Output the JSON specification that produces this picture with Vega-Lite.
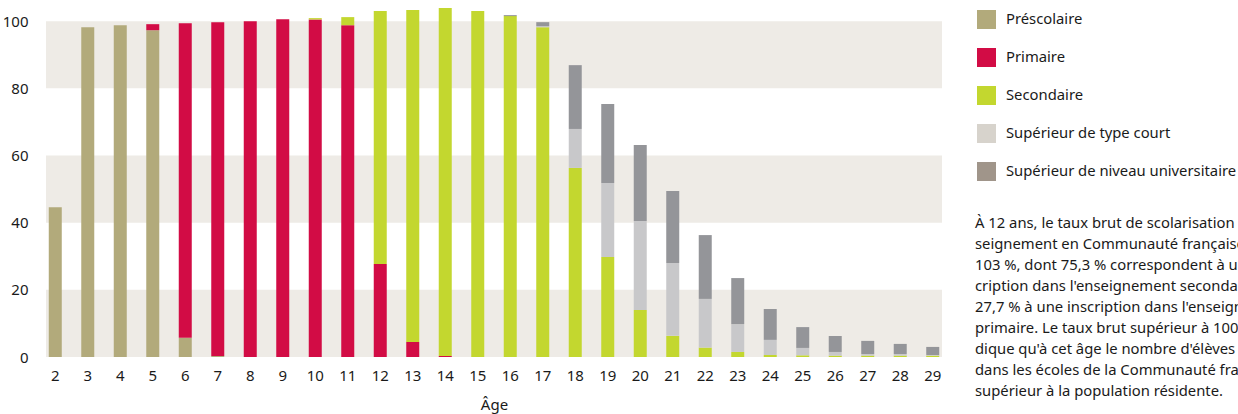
{
  "$schema": "https://vega.github.io/schema/vega-lite/v6.json",
  "autosize": {"type": "none"},
  "width": 896,
  "height": 356,
  "padding": {"left": 46, "top": 1, "right": 296, "bottom": 57},
  "background": "#ffffff",
  "config": {
    "view": {"stroke": null},
    "font": "Noto Sans",
    "axis": {"labelFont": "Noto Sans", "titleFont": "Noto Sans", "labelColor": "#1a1a1a", "titleColor": "#1a1a1a"},
    "legend": {"labelFont": "Noto Sans"}
  },
  "title": {
    "text": [
      "À 12 ans, le taux brut de scolarisation dans l'en-",
      "seignement en Communauté française s'élève à",
      "103 %, dont 75,3 % correspondent à une ins-",
      "cription  dans  l'enseignement  secondaire  et",
      "27,7 % à une inscription  dans l'enseignement",
      "primaire. Le taux brut supérieur à 100 % in-",
      "dique qu'à cet âge le nombre d'élèves inscrits",
      "dans les écoles de la Communauté française est",
      "supérieur à la population résidente."
    ],
    "orient": "top",
    "anchor": "start",
    "frame": "group",
    "baseline": "top",
    "offset": 0,
    "dx": 929,
    "dy": 398,
    "font": "Noto Sans",
    "fontSize": 14.8,
    "fontWeight": "normal",
    "lineHeight": 21,
    "color": "#1a1a1a"
  },
  "datasets": {
    "bandes": [
      {"y1": 0, "y2": 20},
      {"y1": 40, "y2": 60},
      {"y1": 80, "y2": 100}
    ],
    "taux": [
      {"age": 2, "niveau": "Préscolaire", "rang": 1, "taux": 44.6},
      {"age": 3, "niveau": "Préscolaire", "rang": 1, "taux": 98.2},
      {"age": 4, "niveau": "Préscolaire", "rang": 1, "taux": 98.8},
      {"age": 5, "niveau": "Préscolaire", "rang": 1, "taux": 97.3},
      {"age": 5, "niveau": "Primaire", "rang": 2, "taux": 1.8},
      {"age": 6, "niveau": "Préscolaire", "rang": 1, "taux": 5.7},
      {"age": 6, "niveau": "Primaire", "rang": 2, "taux": 93.7},
      {"age": 7, "niveau": "Préscolaire", "rang": 1, "taux": 0.3},
      {"age": 7, "niveau": "Primaire", "rang": 2, "taux": 99.4},
      {"age": 8, "niveau": "Primaire", "rang": 2, "taux": 100.0},
      {"age": 9, "niveau": "Primaire", "rang": 2, "taux": 100.6},
      {"age": 10, "niveau": "Primaire", "rang": 2, "taux": 100.5},
      {"age": 10, "niveau": "Secondaire", "rang": 3, "taux": 0.4},
      {"age": 11, "niveau": "Primaire", "rang": 2, "taux": 98.8},
      {"age": 11, "niveau": "Secondaire", "rang": 3, "taux": 2.4},
      {"age": 12, "niveau": "Primaire", "rang": 2, "taux": 27.7},
      {"age": 12, "niveau": "Secondaire", "rang": 3, "taux": 75.3},
      {"age": 13, "niveau": "Primaire", "rang": 2, "taux": 4.5},
      {"age": 13, "niveau": "Secondaire", "rang": 3, "taux": 98.8},
      {"age": 14, "niveau": "Primaire", "rang": 2, "taux": 0.3},
      {"age": 14, "niveau": "Secondaire", "rang": 3, "taux": 103.6},
      {"age": 15, "niveau": "Secondaire", "rang": 3, "taux": 103.0},
      {"age": 16, "niveau": "Secondaire", "rang": 3, "taux": 101.5},
      {"age": 16, "niveau": "Supérieur de niveau universitaire", "rang": 5, "taux": 0.3},
      {"age": 17, "niveau": "Secondaire", "rang": 3, "taux": 98.2},
      {"age": 17, "niveau": "Supérieur de type court", "rang": 4, "taux": 0.3},
      {"age": 17, "niveau": "Supérieur de niveau universitaire", "rang": 5, "taux": 1.2},
      {"age": 18, "niveau": "Secondaire", "rang": 3, "taux": 56.3},
      {"age": 18, "niveau": "Supérieur de type court", "rang": 4, "taux": 11.6},
      {"age": 18, "niveau": "Supérieur de niveau universitaire", "rang": 5, "taux": 19.0},
      {"age": 19, "niveau": "Secondaire", "rang": 3, "taux": 29.8},
      {"age": 19, "niveau": "Supérieur de type court", "rang": 4, "taux": 22.0},
      {"age": 19, "niveau": "Supérieur de niveau universitaire", "rang": 5, "taux": 23.5},
      {"age": 20, "niveau": "Secondaire", "rang": 3, "taux": 14.0},
      {"age": 20, "niveau": "Supérieur de type court", "rang": 4, "taux": 26.5},
      {"age": 20, "niveau": "Supérieur de niveau universitaire", "rang": 5, "taux": 22.6},
      {"age": 21, "niveau": "Secondaire", "rang": 3, "taux": 6.3},
      {"age": 21, "niveau": "Supérieur de type court", "rang": 4, "taux": 21.7},
      {"age": 21, "niveau": "Supérieur de niveau universitaire", "rang": 5, "taux": 21.4},
      {"age": 22, "niveau": "Secondaire", "rang": 3, "taux": 2.8},
      {"age": 22, "niveau": "Supérieur de type court", "rang": 4, "taux": 14.5},
      {"age": 22, "niveau": "Supérieur de niveau universitaire", "rang": 5, "taux": 19.0},
      {"age": 23, "niveau": "Secondaire", "rang": 3, "taux": 1.5},
      {"age": 23, "niveau": "Supérieur de type court", "rang": 4, "taux": 8.3},
      {"age": 23, "niveau": "Supérieur de niveau universitaire", "rang": 5, "taux": 13.7},
      {"age": 24, "niveau": "Secondaire", "rang": 3, "taux": 0.6},
      {"age": 24, "niveau": "Supérieur de type court", "rang": 4, "taux": 4.5},
      {"age": 24, "niveau": "Supérieur de niveau universitaire", "rang": 5, "taux": 9.2},
      {"age": 25, "niveau": "Secondaire", "rang": 3, "taux": 0.5},
      {"age": 25, "niveau": "Supérieur de type court", "rang": 4, "taux": 2.2},
      {"age": 25, "niveau": "Supérieur de niveau universitaire", "rang": 5, "taux": 6.2},
      {"age": 26, "niveau": "Secondaire", "rang": 3, "taux": 0.4},
      {"age": 26, "niveau": "Supérieur de type court", "rang": 4, "taux": 1.1},
      {"age": 26, "niveau": "Supérieur de niveau universitaire", "rang": 5, "taux": 4.75},
      {"age": 27, "niveau": "Secondaire", "rang": 3, "taux": 0.4},
      {"age": 27, "niveau": "Supérieur de type court", "rang": 4, "taux": 0.5},
      {"age": 27, "niveau": "Supérieur de niveau universitaire", "rang": 5, "taux": 3.9},
      {"age": 28, "niveau": "Secondaire", "rang": 3, "taux": 0.4},
      {"age": 28, "niveau": "Supérieur de type court", "rang": 4, "taux": 0.5},
      {"age": 28, "niveau": "Supérieur de niveau universitaire", "rang": 5, "taux": 3.0},
      {"age": 29, "niveau": "Secondaire", "rang": 3, "taux": 0.4},
      {"age": 29, "niveau": "Supérieur de type court", "rang": 4, "taux": 0.2},
      {"age": 29, "niveau": "Supérieur de niveau universitaire", "rang": 5, "taux": 2.4}
    ]
  },
  "layer": [
    {
      "data": {"name": "bandes"},
      "mark": {"type": "rect", "color": "#eeebe6"},
      "encoding": {
        "y": {"field": "y1", "type": "quantitative", "scale": {"domain": [0, 106], "nice": false, "zero": true}},
        "y2": {"field": "y2"}
      }
    },
    {
      "data": {"name": "taux"},
      "mark": {"type": "bar", "strokeWidth": 0},
      "encoding": {
        "x": {
          "field": "age", "type": "ordinal", "sort": "ascending",
          "scale": {"paddingInner": 0.6, "paddingOuter": 0.085},
          "axis": {"title": "Âge", "labelAngle": 0, "labelFontSize": 15, "titleFontSize": 15, "titleFontWeight": "normal", "labelPadding": 11, "titlePadding": 14, "ticks": false, "domain": false}
        },
        "y": {
          "field": "taux", "type": "quantitative", "stack": "zero",
          "scale": {"domain": [0, 106], "nice": false},
          "axis": {"title": null, "values": [0, 20, 40, 60, 80, 100], "grid": false, "ticks": false, "domain": false, "labelFontSize": 15, "labelPadding": 18}
        },
        "color": {
          "field": "niveau", "type": "nominal",
          "scale": {
            "domain": ["Préscolaire", "Primaire", "Secondaire", "Supérieur de type court", "Supérieur de niveau universitaire"],
            "range": ["#b2aa7b", "#d20c45", "#c3d72f", "#c8c8ca", "#949599"]
          },
          "legend": null
        },
        "order": {"field": "rang", "type": "quantitative", "sort": "ascending"}
      }
    },
    {
      "data": {"name": "taux"},
      "transform": [{"filter": "false"}],
      "mark": {"type": "bar"},
      "encoding": {
        "color": {
          "field": "niveau", "type": "nominal",
          "scale": {
            "domain": ["Préscolaire", "Primaire", "Secondaire", "Supérieur de type court", "Supérieur de niveau universitaire"],
            "range": ["#b2aa7b", "#d20c45", "#c3d72f", "#d7d3cc", "#a0958a"]
          },
          "legend": {
            "title": null, "orient": "none", "legendX": 931, "legendY": 9,
            "symbolType": "square", "symbolSize": 361, "symbolStrokeWidth": 0,
            "labelFontSize": 14.8, "labelColor": "#1a1a1a", "labelOffset": 10,
            "rowPadding": 19, "padding": 0, "labelLimit": 400
          }
        }
      }
    }
  ],
  "resolve": {"scale": {"color": "independent"}}
}
